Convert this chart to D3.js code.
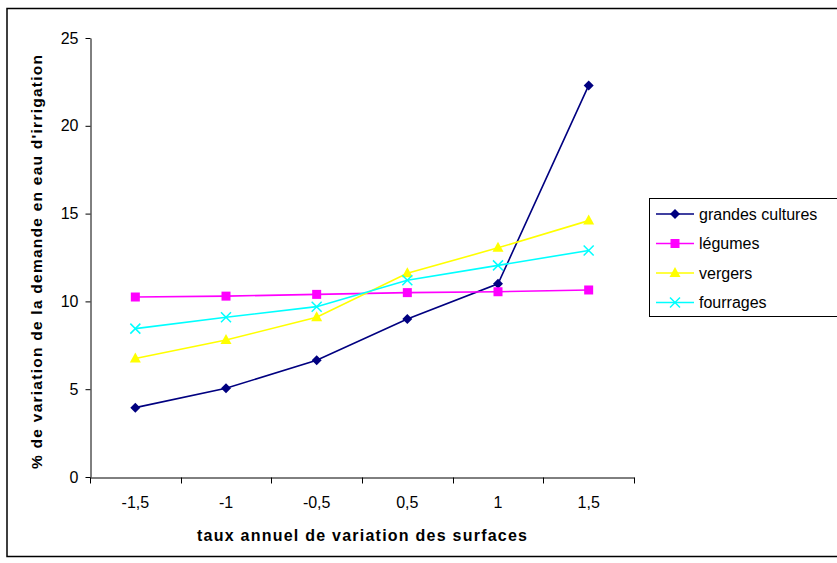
<!DOCTYPE html>
<html>
<head>
<meta charset="utf-8">
<script src="https://cdn.jsdelivr.net/npm/d3@7"></script>
<style>
  body { margin: 0; background: #fff; }
  text { font-family: "Liberation Sans", Arial, sans-serif; }
</style>
</head>
<body>
<svg id="chart" width="837" height="563"></svg>
<script>
// data
var categories = ["-1,5", "-1", "-0,5", "0,5", "1", "1,5"];
var grandesCultures = [3.95, 5.05, 6.65, 9.0, 11.0, 22.3];
var legumes = [10.25, 10.3, 10.4, 10.5, 10.55, 10.65];
var vergers = [6.75, 7.8, 9.1, 11.6, 13.05, 14.6];
var fourrages = [8.45, 9.1, 9.7, 11.2, 12.05, 12.9];
var yTicks = [0, 5, 10, 15, 20, 25];

var series = [
    {name: "grandes cultures", values: grandesCultures, color: "#000080", shape: "diamond"},
    {name: "légumes", values: legumes, color: "#FF00FF", shape: "square"},
    {name: "vergers", values: vergers, color: "#FFFF00", shape: "triangle"},
    {name: "fourrages", values: fourrages, color: "#00FFFF", shape: "cross"}
];

var svg = d3.select("#chart"),
    margin = {top: 38, left: 90, bottom: 86, right: 203},
    width = +svg.attr("width"),
    height = +svg.attr("height");

// outer frame (right edge runs off the picture)
svg.append("rect")
    .attr("x", 7).attr("y", 8.5)
    .attr("width", 840).attr("height", 548)
    .attr("fill", "none").attr("stroke", "#000").attr("stroke-width", 1.5);

var x = d3.scaleBand()
    .domain(categories)
    .range([margin.left, width - margin.right]);

var y = d3.scaleLinear()
    .domain([0, 25])
    .range([height - margin.bottom, margin.top]);

var xAxis = svg.append("g")
    .attr("transform", `translate(0,${y(0) + 0.5})`)
    .call(d3.axisBottom(x).tickSize(0).tickSizeOuter(0).tickPadding(19));
xAxis.select(".domain").attr("stroke", "#000");
xAxis.selectAll("text").style("font-size", "16px").attr("fill", "#000");
// ticks at band edges
xAxis.selectAll(".edge")
    .data(categories.concat([null]))
    .enter().append("line")
    .attr("class", "edge")
    .attr("x1", (d, i) => Math.round(margin.left + i * x.bandwidth()) + 0.5)
    .attr("x2", (d, i) => Math.round(margin.left + i * x.bandwidth()) + 0.5)
    .attr("y1", 0).attr("y2", 6)
    .attr("stroke", "#000");

var yAxis = svg.append("g")
    .attr("transform", `translate(${margin.left + 0.5},0)`)
    .call(d3.axisLeft(y).tickValues(yTicks).tickSize(5).tickSizeOuter(0).tickPadding(7));
yAxis.select(".domain").attr("stroke", "#000");
yAxis.selectAll("line").attr("stroke", "#000");
yAxis.selectAll("text").style("font-size", "16px").attr("fill", "#000");

// axis titles
svg.append("text")
    .attr("x", (margin.left + width - margin.right) / 2)
    .attr("y", 541)
    .attr("text-anchor", "middle")
    .attr("textLength", 330)
    .attr("lengthAdjust", "spacing")
    .style("font-size", "16px")
    .style("font-weight", "bold")
    .text("taux annuel de variation des surfaces");

svg.append("text")
    .attr("transform", "translate(42,262) rotate(-90)")
    .attr("text-anchor", "middle")
    .attr("textLength", 414)
    .attr("lengthAdjust", "spacing")
    .style("font-size", "15.5px")
    .style("font-weight", "bold")
    .text("% de variation de la demande en eau d'irrigation");

var line = d3.line()
    .x((d, i) => x(categories[i]) + x.bandwidth() / 2)
    .y(d => y(d));

function drawMarker(g, shape, color) {
    if (shape === "diamond") {
        g.append("path").attr("d", "M0,-5L5,0L0,5L-5,0Z").attr("fill", color);
    } else if (shape === "square") {
        g.append("rect").attr("x", -4.5).attr("y", -4.5).attr("width", 9).attr("height", 9).attr("fill", color);
    } else if (shape === "triangle") {
        g.append("path").attr("d", "M0,-6L5.5,4L-5.5,4Z").attr("fill", color);
    } else {
        g.append("path").attr("d", "M-5,-5L5,5M5,-5L-5,5").attr("stroke", color).attr("stroke-width", 1.5);
    }
}

var layer = svg.selectAll("g.layer")
    .data(series)
    .enter().append("g")
    .attr("class", "layer");

layer.append("path")
    .attr("d", d => line(d.values))
    .attr("fill", "none")
    .attr("stroke", d => d.color)
    .attr("stroke-width", 1.6);

layer.each(function(s) {
    d3.select(this).selectAll("g.pt")
        .data(s.values)
        .enter().append("g")
        .attr("class", "pt")
        .attr("transform", (d, i) => `translate(${x(categories[i]) + x.bandwidth() / 2},${y(d)})`)
        .each(function() { drawMarker(d3.select(this), s.shape, s.color); });
});

// legend (right edge runs off the picture too)
var legend = svg.append("g").attr("transform", "translate(649,198)");
legend.append("rect")
    .attr("x", 0.5).attr("y", 0.5)
    .attr("width", 200).attr("height", 118)
    .attr("fill", "#fff").attr("stroke", "#000");

var item = legend.selectAll(".legend")
    .data(series)
    .enter().append("g")
    .attr("class", "legend")
    .attr("transform", (d, i) => "translate(0," + (16 + i * 29.5) + ")");

item.append("line")
    .attr("x1", 7).attr("x2", 45)
    .attr("stroke", d => d.color).attr("stroke-width", 1.6);

item.append("g")
    .attr("transform", "translate(26,0)")
    .each(function(d) { drawMarker(d3.select(this), d.shape, d.color); });

item.append("text")
    .attr("x", 50)
    .attr("dy", ".35em")
    .style("font-size", "16px")
    .text(d => d.name);
</script>
</body>
</html>
